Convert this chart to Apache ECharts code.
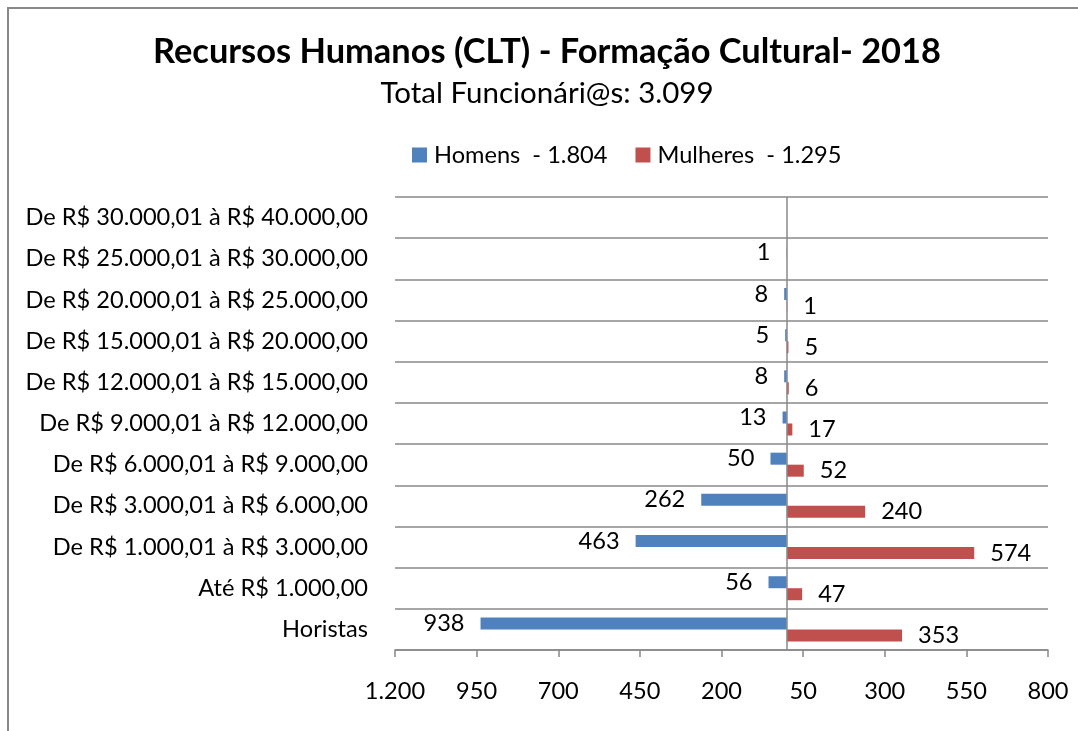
<!DOCTYPE html>
<html>
<head>
<meta charset="utf-8">
<script src="https://cdn.jsdelivr.net/npm/echarts@6/dist/echarts.min.js"></script>
<style>
html, body { margin: 0; padding: 0; background: #fff; }
#chart { width: 1078px; height: 731px; }
</style>
</head>
<body>
<div id="chart"></div>
<script>
const titleText = 'Recursos Humanos (CLT) - Formação Cultural- 2018';
const subtitleText = 'Total Funcionári@s: 3.099';
const categories = [
  'De R$ 30.000,01 à R$ 40.000,00',
  'De R$ 25.000,01 à R$ 30.000,00',
  'De R$ 20.000,01 à R$ 25.000,00',
  'De R$ 15.000,01 à R$ 20.000,00',
  'De R$ 12.000,01 à R$ 15.000,00',
  'De R$ 9.000,01 à R$ 12.000,00',
  'De R$ 6.000,01 à R$ 9.000,00',
  'De R$ 3.000,01 à R$ 6.000,00',
  'De R$ 1.000,01 à R$ 3.000,00',
  'Até R$ 1.000,00',
  'Horistas'
];
const seriesNames = ['Homens  - 1.804', 'Mulheres  - 1.295'];
const homens   = [0, 1, 8, 5, 8, 13, 50, 262, 463, 56, 938];
const mulheres = [0, 0, 1, 5, 6, 17, 52, 240, 574, 47, 353];
const xMin = -1200;
const xMax = 800;
const xStep = 250;

const FONT = 'Lato';
const GRAY = '#888888';
const FS = 23.6;

function fmtThousands(v) {
  const s = String(Math.round(Math.abs(v)));
  return s.replace(/\B(?=(\d{3})+(?!\d))/g, '.');
}

const chart = echarts.init(document.getElementById('chart'));
chart.setOption({
  backgroundColor: '#ffffff',
  animation: false,
  textStyle: { fontFamily: FONT, color: '#000' },
  graphic: [{
    type: 'rect',
    shape: { x: 8, y: 8, width: 1200, height: 900 },
    style: { fill: 'none', stroke: GRAY, lineWidth: 2 },
    silent: true
  }],
  title: [{
    text: titleText,
    left: 542, top: 30, textAlign: 'center',
    textStyle: { fontFamily: FONT, fontSize: 34.4, fontWeight: 'bold', color: '#000' }
  }, {
    text: subtitleText,
    left: 542, top: 73, textAlign: 'center',
    textStyle: { fontFamily: FONT, fontSize: 29.5, fontWeight: 'normal', color: '#000' }
  }],
  legend: {
    left: 407, top: 138,
    icon: 'rect', itemWidth: 15, itemHeight: 15, itemGap: 28,
    textStyle: { fontFamily: FONT, fontSize: FS, color: '#000', padding: [0, 0, 0, 2] },
    data: seriesNames
  },
  grid: { left: 395, right: 30, top: 197, bottom: 81 },
  xAxis: {
    type: 'value', min: xMin, max: xMax, interval: xStep,
    axisLine: { show: true, onZero: false, lineStyle: { color: GRAY, width: 1.5 } },
    axisTick: { show: true, length: 7, inside: false, lineStyle: { color: GRAY, width: 1.5 } },
    splitLine: { show: false },
    axisLabel: {
      margin: 29, fontFamily: FONT, fontSize: FS, color: '#000',
      formatter: v => fmtThousands(v)
    }
  },
  yAxis: {
    type: 'category', data: categories, inverse: true,
    axisLine: { show: false, onZero: false },
    axisTick: { show: false },
    splitLine: { show: true, lineStyle: { color: GRAY, width: 1.5 } },
    axisLabel: { margin: 27, fontFamily: FONT, fontSize: FS, color: '#000' }
  },
  series: [{
    name: seriesNames[0], type: 'bar',
    data: homens.map(v => -v),
    barWidth: 12, barGap: '0%',
    itemStyle: { color: '#4F81BD' },
    label: {
      show: true, position: 'left', distance: 16,
      fontFamily: FONT, fontSize: FS, color: '#000',
      formatter: p => (p.value === 0 ? '' : fmtThousands(p.value))
    },
    markLine: {
      silent: true, symbol: 'none', animation: false,
      label: { show: false },
      lineStyle: { color: GRAY, width: 1.5, type: 'solid' },
      data: [{ xAxis: 0 }]
    }
  }, {
    name: seriesNames[1], type: 'bar',
    data: mulheres,
    barWidth: 12, barGap: '0%',
    itemStyle: { color: '#C0504D' },
    label: {
      show: true, position: 'right', distance: 16,
      fontFamily: FONT, fontSize: FS, color: '#000',
      formatter: p => (p.value === 0 ? '' : fmtThousands(p.value))
    }
  }]
});
</script>
</body>
</html>
